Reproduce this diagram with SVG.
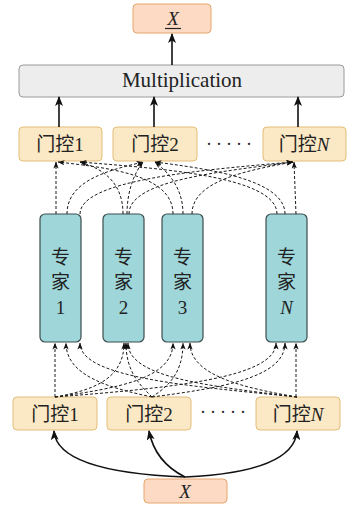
<svg xmlns="http://www.w3.org/2000/svg" width="347" height="506" viewBox="0 0 347 506">
  <style>
    .gate { fill: #fbe8c4; stroke: #e3bd78; stroke-width: 1; }
    .xbox { fill: #fcdac4; stroke: #e6a66c; stroke-width: 1; }
    .mult { fill: #ededed; stroke: #9a9a9a; stroke-width: 1; }
    .expert { fill: #9ed6d9; stroke: #3c4c4e; stroke-width: 1.2; }
    .lbl { font-family: "Liberation Serif", "Noto Sans CJK SC", serif; fill: #222; text-anchor: middle; }
    .it { font-style: italic; }
    .solid { fill: none; stroke: #111; stroke-width: 1.6; marker-end: url(#big); }
    .dash { fill: none; stroke: #1a1a1a; stroke-width: 1; stroke-dasharray: 3 2; marker-end: url(#small); }
  </style>
  <defs>
    <marker id="big" viewBox="0 0 10 8" refX="9" refY="4" markerWidth="10" markerHeight="8" markerUnits="userSpaceOnUse" orient="auto">
      <path d="M0,0 L10,4 L0,8 L2.5,4 z" fill="#111"/>
    </marker>
    <marker id="small" viewBox="0 0 8 6" refX="7.5" refY="3" markerWidth="7" markerHeight="6" markerUnits="userSpaceOnUse" orient="auto">
      <path d="M0,0 L8,3 L0,6 L2,3 z" fill="#111"/>
    </marker>
  </defs>

  <!-- output -->
  <g id="out">
    <rect class="xbox" x="133" y="4" width="78" height="29" rx="4"/>
    <text class="lbl it" x="173" y="25" font-size="19">X</text>
    <line x1="165" y1="28.5" x2="181" y2="28.5" stroke="#222" stroke-width="1.2"/>
  </g>

  <g id="multiplication">
    <rect class="mult" x="19" y="65" width="325" height="32" rx="4"/>
    <text class="lbl" x="182" y="87" font-size="21">Multiplication</text>
  </g>

  <!-- gates feeding the multiplication -->
  <g id="gate-top-1">
    <rect class="gate" x="19" y="127" width="83" height="34" rx="4"/>
    <text class="lbl" x="60" y="151" font-size="19">门控1</text>
  </g>
  <g id="gate-top-2">
    <rect class="gate" x="113" y="127" width="84" height="34" rx="4"/>
    <text class="lbl" x="155" y="151" font-size="19">门控2</text>
  </g>
  <g id="gate-top-n">
    <rect class="gate" x="263" y="127" width="83" height="34" rx="4"/>
    <text class="lbl" x="304" y="151" font-size="19">门控<tspan class="it">N</tspan></text>
  </g>
  <text class="lbl" x="231" y="150" font-size="18" letter-spacing="4">·····</text>

  <!-- experts -->
  <g id="expert-1">
    <rect class="expert" x="40" y="214" width="41" height="128" rx="5"/>
    <text class="lbl" x="60.5" y="264" font-size="19">专</text>
    <text class="lbl" x="60.5" y="289" font-size="19">家</text>
    <text class="lbl" x="60.5" y="314" font-size="19">1</text>
  </g>
  <g id="expert-2">
    <rect class="expert" x="103" y="214" width="41" height="128" rx="5"/>
    <text class="lbl" x="123.5" y="264" font-size="19">专</text>
    <text class="lbl" x="123.5" y="289" font-size="19">家</text>
    <text class="lbl" x="123.5" y="314" font-size="19">2</text>
  </g>
  <g id="expert-3">
    <rect class="expert" x="162" y="214" width="41" height="128" rx="5"/>
    <text class="lbl" x="182.5" y="264" font-size="19">专</text>
    <text class="lbl" x="182.5" y="289" font-size="19">家</text>
    <text class="lbl" x="182.5" y="314" font-size="19">3</text>
  </g>
  <g id="expert-n">
    <rect class="expert" x="266" y="214" width="41" height="128" rx="5"/>
    <text class="lbl" x="286.5" y="264" font-size="19">专</text>
    <text class="lbl" x="286.5" y="289" font-size="19">家</text>
    <text class="lbl it" x="286.5" y="314" font-size="19">N</text>
  </g>

  <!-- gates fed by the input -->
  <g id="gate-bottom-1">
    <rect class="gate" x="13" y="397" width="84" height="33" rx="4"/>
    <text class="lbl" x="55" y="421" font-size="19">门控1</text>
  </g>
  <g id="gate-bottom-2">
    <rect class="gate" x="107" y="397" width="84" height="33" rx="4"/>
    <text class="lbl" x="149" y="421" font-size="19">门控2</text>
  </g>
  <g id="gate-bottom-n">
    <rect class="gate" x="256" y="397" width="84" height="33" rx="4"/>
    <text class="lbl" x="298" y="421" font-size="19">门控<tspan class="it">N</tspan></text>
  </g>
  <text class="lbl" x="225" y="418" font-size="18" letter-spacing="4">·····</text>

  <g id="input">
    <rect class="xbox" x="144" y="479" width="83" height="24" rx="4"/>
    <text class="lbl it" x="185" y="498" font-size="19">X</text>
  </g>

  <g id="connectors">
    <!-- solid: input to gates, gates to multiplication, multiplication to output -->
    <path class="solid" d="M185,477 Q57,472 54,431"/>
    <path class="solid" d="M185,477 Q155,462 149,431"/>
    <path class="solid" d="M185,477 Q294,472 297,431"/>
    <line class="solid" x1="59" y1="127" x2="59" y2="97"/>
    <line class="solid" x1="154" y1="127" x2="154" y2="97"/>
    <line class="solid" x1="298" y1="127" x2="298" y2="97"/>
    <line class="solid" x1="172" y1="65" x2="172" y2="34"/>

    <!-- dashed: bottom gates to expert inputs -->
    <line class="dash" x1="55" y1="397" x2="55" y2="343"/>
    <path class="dash" d="M55,397 C95,390 124,378 124,343"/>
    <path class="dash" d="M55,397 C120,388 173,378 173,343"/>
    <path class="dash" d="M55,397 C170,388 276,378 276,343"/>
    <path class="dash" d="M152,397 C110,388 66,376 66,343"/>
    <path class="dash" d="M152,397 C140,385 126,372 126,343"/>
    <path class="dash" d="M152,397 C165,388 183,376 183,343"/>
    <path class="dash" d="M152,397 C220,388 285,378 285,343"/>
    <path class="dash" d="M297,397 C190,386 80,378 80,343"/>
    <path class="dash" d="M297,397 C210,386 128,378 128,343"/>
    <path class="dash" d="M297,397 C245,388 190,376 190,343"/>
    <line class="dash" x1="296" y1="397" x2="296" y2="343"/>

    <!-- dashed: expert outputs to top gates -->
    <line class="dash" x1="56" y1="214" x2="56" y2="162"/>
    <path class="dash" d="M67,214 C67,180 110,170 143,162"/>
    <path class="dash" d="M80,214 C80,180 200,170 293,162"/>
    <path class="dash" d="M123,214 C123,180 100,168 80,162"/>
    <path class="dash" d="M127,214 C127,190 135,172 143,162"/>
    <path class="dash" d="M129,214 C129,180 220,172 293,162"/>
    <path class="dash" d="M173,214 C173,175 110,168 58,162"/>
    <path class="dash" d="M183,214 C183,185 165,170 155,162"/>
    <path class="dash" d="M192,214 C192,180 250,170 293,162"/>
    <path class="dash" d="M277,214 C277,175 150,168 80,162"/>
    <path class="dash" d="M285,214 C285,178 200,168 155,162"/>
    <line class="dash" x1="296" y1="214" x2="294" y2="162"/>
  </g>
</svg>
